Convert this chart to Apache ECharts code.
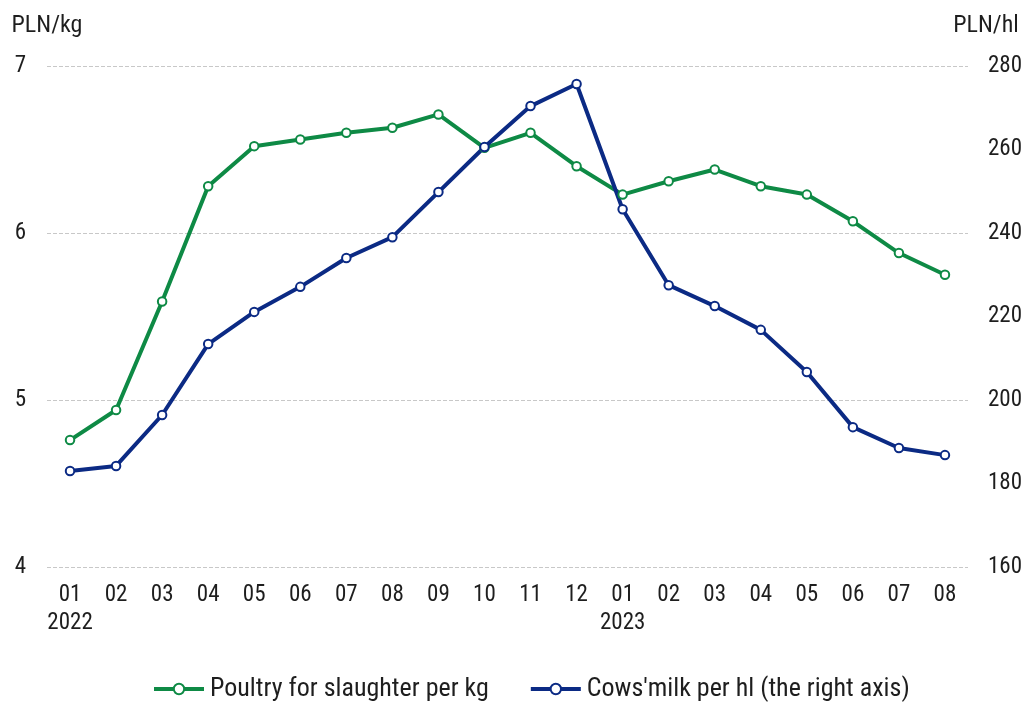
<!DOCTYPE html>
<html>
<head>
<meta charset="utf-8">
<script src="https://cdn.jsdelivr.net/npm/echarts@6/dist/echarts.min.js"></script>
<style>html,body{margin:0;padding:0;background:#fff}#chart{width:1027px;height:702px}</style>
</head>
<body>
<div id="chart"></div>
<script>
const months = ['01','02','03','04','05','06','07','08','09','10','11','12','01','02','03','04','05','06','07','08'];
const years = {0:'2022', 12:'2023'};
const poultry = [4.76,4.94,5.59,6.28,6.52,6.56,6.60,6.63,6.71,6.51,6.60,6.40,6.23,6.31,6.38,6.28,6.23,6.07,5.88,5.75];
const milk = [183.0,184.2,196.4,213.4,221.1,227.1,234.0,239.0,249.8,260.6,270.4,275.7,245.7,227.5,222.5,216.8,206.7,193.5,188.5,186.8];
const leftTicks = {min:4, max:7, interval:1};
const rightTicks = {min:160, max:280, interval:20};
const names = ['Poultry for slaughter per kg', "Cows'milk per hl (the right axis)"];

const FONT = "'Liberation Sans Narrow','Roboto Condensed','DejaVu Sans Condensed',sans-serif";
const TXT = '#1e1e1e';
const GREEN = '#0e8a45';
const BLUE = '#0b2a84';

const chart = echarts.init(document.getElementById('chart'));
chart.setOption({
  animation: false,
  textStyle: {fontFamily: FONT},
  grid: {left: 47, right: 59, top: 66, bottom: 135, containLabel: false},
  legend: {
    top: 676, left: 152, padding: 0, itemGap: 40, itemWidth: 50, itemHeight: 13,
    textStyle: {fontFamily: FONT, fontSize: 26, color: TXT, padding: [0,0,0,1]},
    lineStyle: {width: 4},
    itemStyle: {borderWidth: 4},
    data: names
  },
  xAxis: {
    type: 'category', data: months, boundaryGap: true,
    axisLine: {show: false}, axisTick: {show: false},
    axisLabel: {
      interval: 0, margin: 14, fontSize: 23, color: TXT, lineHeight: 28, fontFamily: FONT,
      formatter: (v, i) => years[i] ? v + '\n' + years[i] : v
    }
  },
  yAxis: [
    {
      type: 'value', min: leftTicks.min, max: leftTicks.max, interval: leftTicks.interval,
      name: 'PLN/kg', nameLocation: 'end', nameGap: 28,
      nameTextStyle: {fontSize: 24, color: TXT, fontFamily: FONT},
      axisLine: {show: false}, axisTick: {show: false},
      axisLabel: {margin: 21, fontSize: 23, color: TXT, fontFamily: FONT},
      splitLine: {show: true, lineStyle: {color: '#c8c8c8', type: [4,2], width: 1}}
    },
    {
      type: 'value', position: 'right', min: rightTicks.min, max: rightTicks.max, interval: rightTicks.interval,
      name: 'PLN/hl', nameLocation: 'end', nameGap: 28,
      nameTextStyle: {fontSize: 24, color: TXT, fontFamily: FONT, padding: [0,0,0,36]},
      axisLine: {show: false}, axisTick: {show: false},
      axisLabel: {margin: 20, fontSize: 23, color: TXT, fontFamily: FONT},
      splitLine: {show: false}
    }
  ],
  series: [
    {
      name: names[0], type: 'line', yAxisIndex: 0, data: poultry,
      symbol: 'emptyCircle', symbolSize: 8.5,
      lineStyle: {color: GREEN, width: 4},
      itemStyle: {color: GREEN, borderColor: GREEN, borderWidth: 4}
    },
    {
      name: names[1], type: 'line', yAxisIndex: 1, data: milk,
      symbol: 'emptyCircle', symbolSize: 8.5,
      lineStyle: {color: BLUE, width: 4},
      itemStyle: {color: BLUE, borderColor: BLUE, borderWidth: 4}
    }
  ]
});
</script>
</body>
</html>
